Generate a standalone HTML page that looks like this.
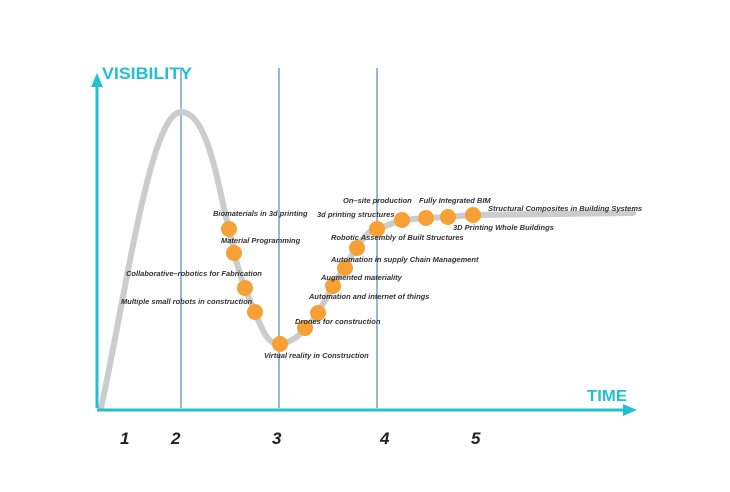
<!DOCTYPE html><html><head><style>body{margin:0;background:#fff}svg text{font-family:"Liberation Sans",sans-serif}</style></head><body>
<svg width="730" height="487" viewBox="0 0 730 487" xmlns="http://www.w3.org/2000/svg">
<g stroke="#3d6ea8" stroke-width="1"><line x1="181" y1="68" x2="181" y2="408"/><line x1="279" y1="68" x2="279" y2="408"/><line x1="377" y1="68" x2="377" y2="408"/></g>
<path d="M101,408 C125,300 150,112 181,112 C210,112 220,200 229,228 L234,253 C240,275 245,290 255,312 C262,330 268,345 280,344 C292,342 300,335 305,329 C312,322 318,313 318,313 L333,286 L344,268 L357,247 C365,235 370,230 377,229 L402,220 L426,218 L448,217 L473,215 L633,213" fill="none" stroke="#cccccc" stroke-width="6" stroke-linecap="round"/>
<g stroke="#22c0d2" stroke-width="3" fill="#22c0d2"><line x1="97" y1="408" x2="97" y2="85"/><line x1="97" y1="410" x2="625" y2="410"/></g>
<polygon points="97,73 91,87 103,87" fill="#22c0d2"/><polygon points="637,410 623,404 623,416" fill="#22c0d2"/>
<text x="102" y="79" font-size="17" font-weight="900" fill="#22c0d2" textLength="90" lengthAdjust="spacingAndGlyphs">VISIBILITY</text>
<text x="587" y="401" font-size="16" font-weight="bold" fill="#22c0d2" textLength="40" lengthAdjust="spacingAndGlyphs">TIME</text>
<g fill="#f7a035"><circle cx="229" cy="229" r="8"/><circle cx="234" cy="253" r="8"/><circle cx="245" cy="288" r="8"/><circle cx="255" cy="312" r="8"/><circle cx="280" cy="344" r="8"/><circle cx="305" cy="328" r="8"/><circle cx="318" cy="313" r="8"/><circle cx="333" cy="286" r="8"/><circle cx="345" cy="268" r="8"/><circle cx="357" cy="248" r="8"/><circle cx="377" cy="229" r="8"/><circle cx="402" cy="220" r="8"/><circle cx="426" cy="218" r="8"/><circle cx="448" cy="217" r="8"/><circle cx="473" cy="215" r="8"/></g>
<g font-size="7.5" font-style="italic" font-weight="bold" fill="#333">
<text x="213" y="216">Biomaterials in 3d printing</text>
<text x="221" y="243">Material Programming</text>
<text x="126" y="276">Collaborative–robotics for Fabrication</text>
<text x="121" y="304">Multiple small robots in construction</text>
<text x="264" y="358">Virtual reality in Construction</text>
<text x="295" y="324">Drones for construction</text>
<text x="309" y="299">Automation and internet of things</text>
<text x="321" y="280">Augmented materiality</text>
<text x="331" y="262">Automation in supply Chain Management</text>
<text x="331" y="240">Robotic Assembly of Built Structures</text>
<text x="317" y="217">3d printing structures</text>
<text x="343" y="203">On–site production</text>
<text x="419" y="203">Fully Integrated BIM</text>
<text x="488" y="211">Structural Composites in Building Systems</text>
<text x="453" y="230">3D Printing Whole Buildings</text>
</g>
<g font-size="17" font-style="italic" font-weight="bold" fill="#222">
<text x="120" y="444">1</text><text x="171" y="444">2</text><text x="272" y="444">3</text><text x="380" y="444">4</text><text x="471" y="444">5</text></g>
</svg></body></html>
